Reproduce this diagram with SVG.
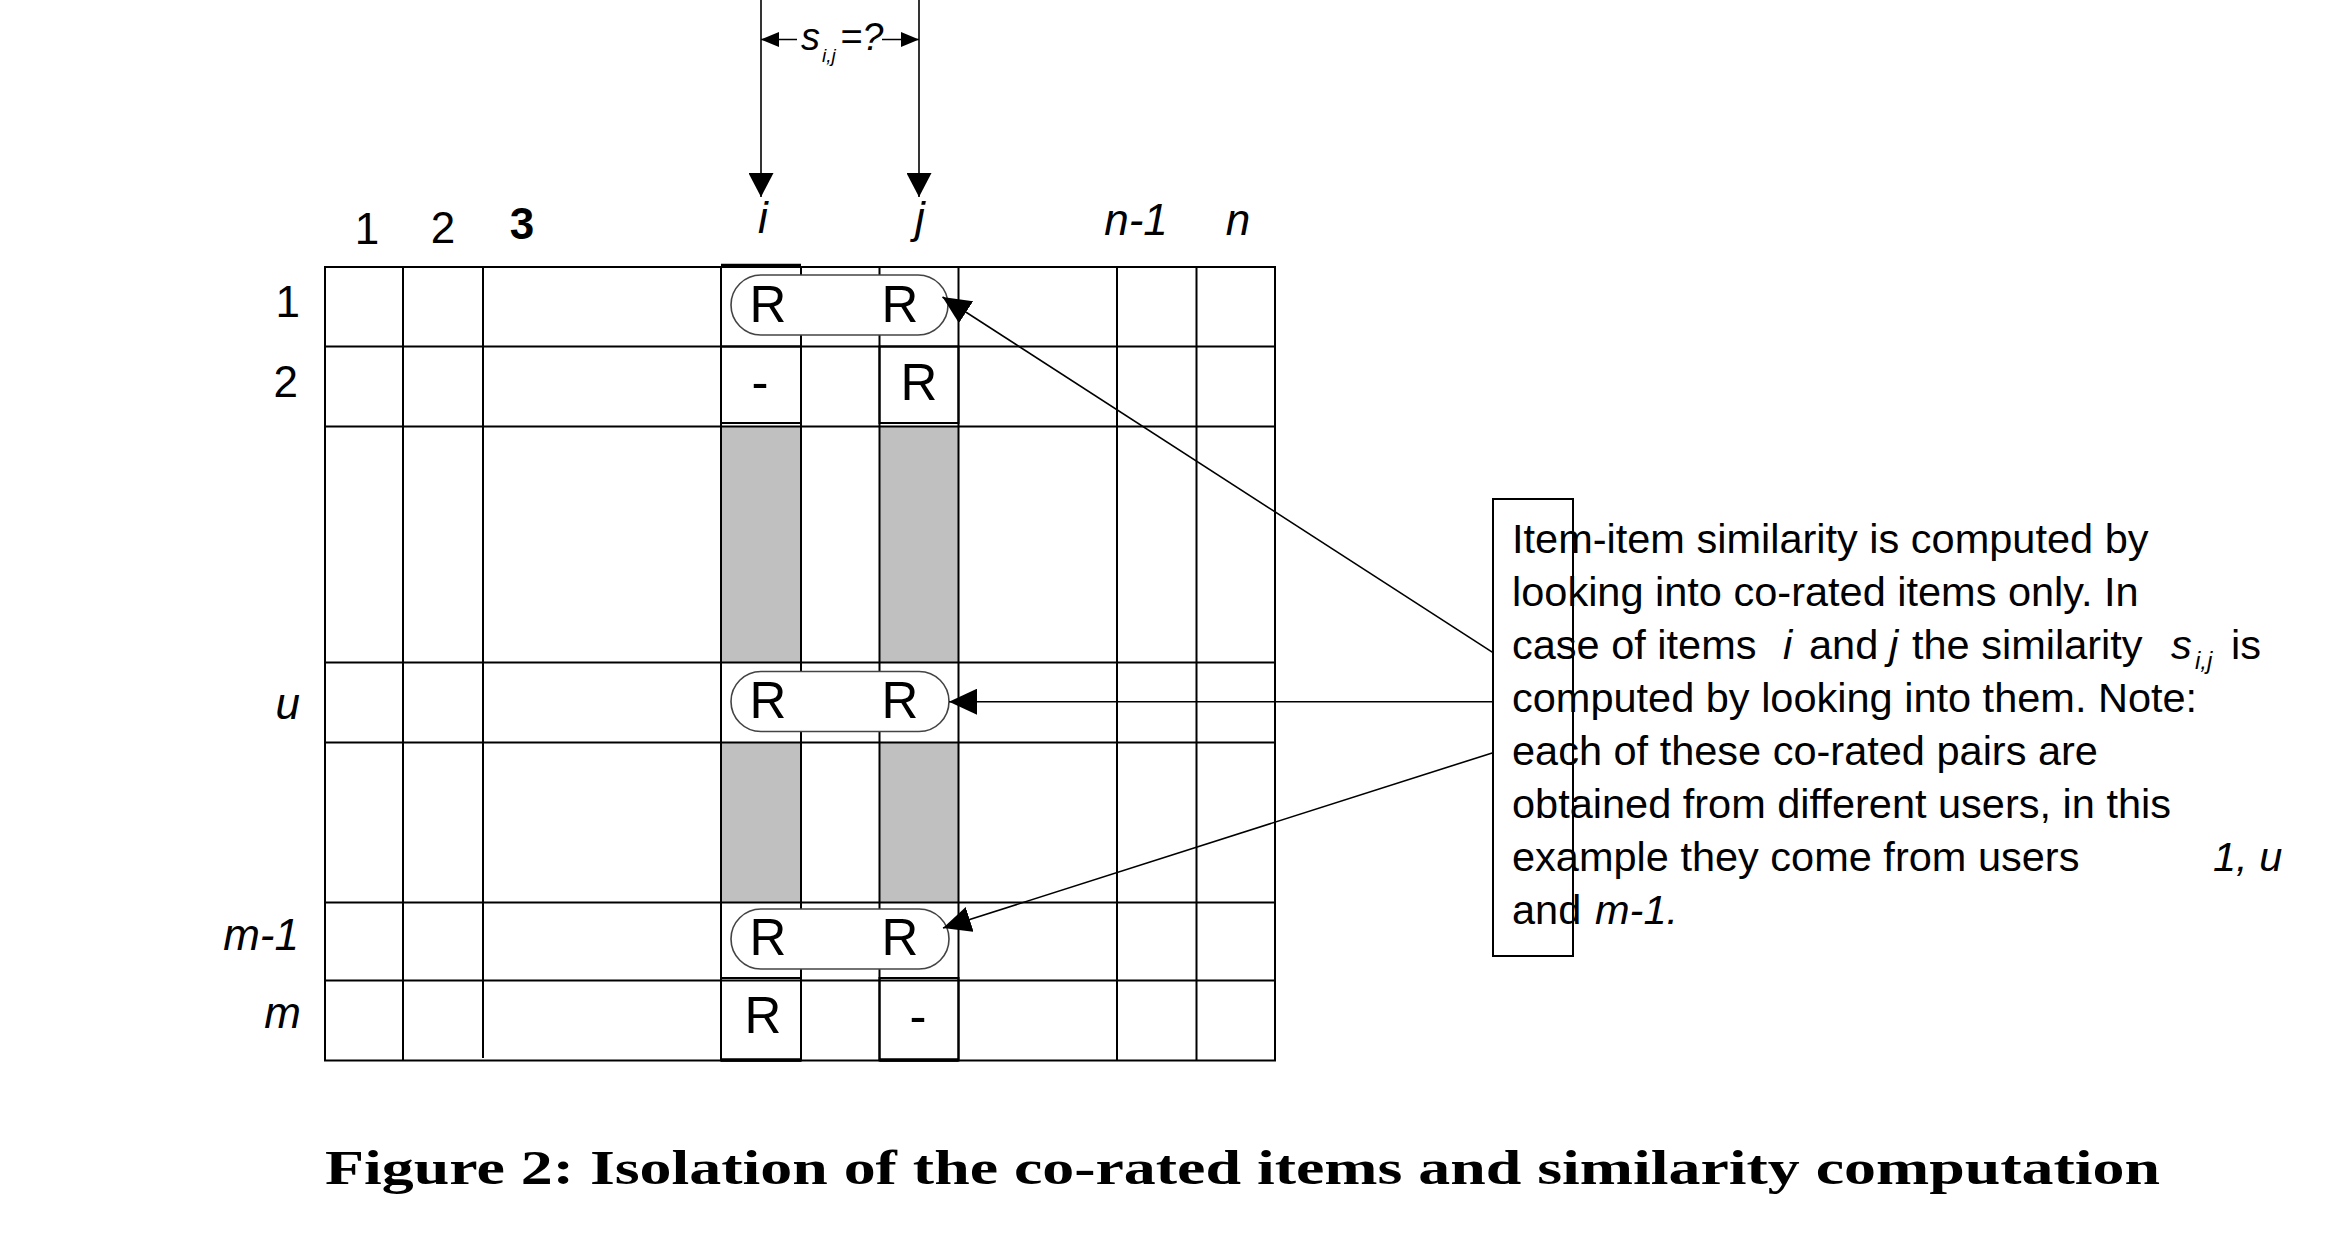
<svg xmlns="http://www.w3.org/2000/svg" width="2344" height="1234" viewBox="0 0 2344 1234">
<style>
  .ln { stroke:#000; stroke-width:2; fill:none; }
  .thk { stroke:#000; stroke-width:3.5; fill:none; }
  .gray { fill:#c0c0c0; stroke:none; }
  .box { fill:none; stroke:#000; stroke-width:2; }
  .pill { fill:#fff; stroke:#444; stroke-width:1.6; }
  .lbl { font-family:"Liberation Sans", Arial, sans-serif; font-size:44px; fill:#000; }
  .it { font-style:italic; }
  .cell { font-family:"Liberation Sans", Arial, sans-serif; font-size:51px; fill:#000; text-anchor:middle; }
  .note { font-family:"Liberation Sans", Arial, sans-serif; font-size:41.5px; fill:#000; }
  .cap { font-family:"Liberation Serif", "Times New Roman", serif; font-weight:bold; font-size:48px; fill:#000; }
  .con { stroke:#000; stroke-width:1.6; fill:none; }
</style>
<defs>
  <marker id="ahBig" viewBox="0 0 28 26" refX="28" refY="13" markerWidth="28" markerHeight="26" markerUnits="userSpaceOnUse" orient="auto">
    <path d="M0,0 L28,13 L0,26 z" fill="#000"/>
  </marker>
  <marker id="ahTop" viewBox="0 0 24 25" refX="24" refY="12.5" markerWidth="24" markerHeight="25" markerUnits="userSpaceOnUse" orient="auto">
    <path d="M0,0 L24,12.5 L0,25 z" fill="#000"/>
  </marker>
  <marker id="ahSm" viewBox="0 0 18 15" refX="18" refY="7.5" markerWidth="18" markerHeight="15" markerUnits="userSpaceOnUse" orient="auto">
    <path d="M0,0 L18,7.5 L0,15 z" fill="#000"/>
  </marker>
</defs>

<g id="grid">
  <rect class="gray" x="721" y="426.5" width="80" height="236"/>
  <rect class="gray" x="879.5" y="426.5" width="79" height="236"/>
  <rect class="gray" x="721" y="742.5" width="80" height="160"/>
  <rect class="gray" x="879.5" y="742.5" width="79" height="160"/>
  <rect class="ln" x="325" y="267" width="950" height="793.5"/>
  <path class="ln" d="M403,267V1060.5 M483,267V1058 M721,267V1060.5 M801,267V1060.5 M879.5,267V1060.5 M958.5,267V1060.5 M1117,267V1060.5 M1196.5,267V1060.5"/>
  <path class="ln" d="M325,346.5H1275 M325,426.5H1275 M325,662.5H1275 M325,742.5H1275 M325,902.5H1275 M325,980.5H1275"/>
  <rect class="box" x="721" y="346.5" width="80" height="76.5"/>
  <rect class="box" x="879.5" y="346.5" width="79" height="76.5"/>
  <rect class="box" x="721" y="978" width="80" height="82.5"/>
  <rect class="box" x="879.5" y="978" width="79" height="82.5"/>
  <path class="thk" d="M721,265.5H801 M721,1060H801 M879.5,1060H958.5"/>
</g>

<g id="col-labels">
  <text class="lbl" x="367" y="244" text-anchor="middle">1</text>
  <text class="lbl" x="443" y="243" text-anchor="middle">2</text>
  <text class="lbl" x="522" y="239" text-anchor="middle" font-weight="bold">3</text>
  <text class="lbl it" x="763" y="233" text-anchor="middle">i</text>
  <text class="lbl it" x="920" y="233" text-anchor="middle">j</text>
  <text class="lbl it" x="1136" y="235" text-anchor="middle">n-1</text>
  <text class="lbl it" x="1238" y="235" text-anchor="middle">n</text>
</g>

<g id="row-labels">
  <text class="lbl" x="300" y="317" text-anchor="end">1</text>
  <text class="lbl" x="298" y="397" text-anchor="end">2</text>
  <text class="lbl it" x="300" y="719" text-anchor="end">u</text>
  <text class="lbl it" x="299" y="950" text-anchor="end">m-1</text>
  <text class="lbl it" x="301" y="1028" text-anchor="end">m</text>
</g>

<g id="cells">
  <text class="cell" x="760" y="400">-</text>
  <text class="cell" x="919" y="400">R</text>
  <text class="cell" x="763" y="1033">R</text>
  <text class="cell" x="918" y="1034">-</text>
</g>

<g id="pair-1">
  <rect class="pill" x="731" y="275" width="217" height="60" rx="30" ry="30"/>
  <text class="cell" x="768" y="322">R</text>
  <text class="cell" x="900" y="322">R</text>
</g>
<g id="pair-u">
  <rect class="pill" x="731" y="671.5" width="218" height="60" rx="30" ry="30"/>
  <text class="cell" x="768" y="718">R</text>
  <text class="cell" x="900" y="718">R</text>
</g>
<g id="pair-m1">
  <rect class="pill" x="731" y="909" width="218" height="60" rx="30" ry="30"/>
  <text class="cell" x="768" y="955">R</text>
  <text class="cell" x="900" y="955">R</text>
</g>

<g id="similarity-label">
  <text class="lbl it" style="font-size:38px" y="50"><tspan x="801">s</tspan><tspan x="822" dy="12" style="font-size:19px">i,j</tspan><tspan x="840" dy="-12">=?</tspan></text>
</g>

<g id="note">
  <rect class="box" x="1493" y="499" width="80" height="457"/>
  <text class="note" x="1512" y="553">Item-item similarity is computed by</text>
  <text class="note" x="1512" y="606">looking into co-rated items only. In</text>
  <text class="note" y="659"><tspan x="1512">case of items</tspan><tspan x="1783" class="it">i</tspan><tspan x="1809">and</tspan><tspan x="1889" class="it">j</tspan><tspan x="1912">the similarity</tspan><tspan x="2171" class="it">s</tspan><tspan x="2195" dy="10" class="it" style="font-size:24px">i,j</tspan><tspan x="2231" dy="-10">is</tspan></text>
  <text class="note" x="1512" y="712">computed by looking into them. Note:</text>
  <text class="note" x="1512" y="765">each of these co-rated pairs are</text>
  <text class="note" x="1512" y="818">obtained from different users, in this</text>
  <text class="note" y="871"><tspan x="1512">example they come from users</tspan><tspan x="2213" class="it">1, u</tspan></text>
  <text class="note" y="924"><tspan x="1512">and</tspan><tspan x="1595" class="it">m-1.</tspan></text>
</g>

<g id="connectors">
  <line class="con" x1="761" y1="0" x2="761" y2="197" stroke-width="2" marker-end="url(#ahTop)"/>
  <line class="con" x1="919" y1="0" x2="919" y2="197" stroke-width="2" marker-end="url(#ahTop)"/>
  <line class="con" x1="797" y1="39.5" x2="761" y2="39.5" stroke-width="2" marker-end="url(#ahSm)"/>
  <line class="con" x1="882" y1="39.5" x2="919" y2="39.5" stroke-width="2" marker-end="url(#ahSm)"/>
  <line class="con" x1="1493" y1="652.7" x2="942.5" y2="297" marker-end="url(#ahBig)"/>
  <line class="con" x1="1493" y1="701.7" x2="949" y2="701.7" stroke="#555" stroke-width="2" marker-end="url(#ahBig)"/>
  <line class="con" x1="1493" y1="752.7" x2="943" y2="928" marker-end="url(#ahBig)"/>
</g>

<g id="caption">
  <text class="cap" x="325" y="1184" textLength="1835" lengthAdjust="spacingAndGlyphs">Figure 2: Isolation of the co-rated items and similarity computation</text>
</g>
</svg>
